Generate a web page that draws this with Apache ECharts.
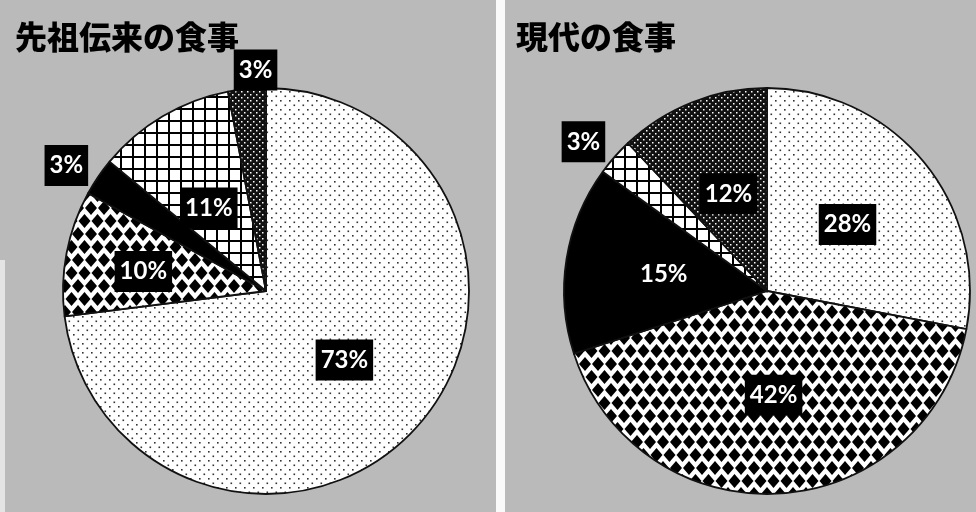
<!DOCTYPE html>
<html>
<head>
<meta charset="utf-8">
<script src="https://cdn.jsdelivr.net/npm/echarts@6/dist/echarts.min.js"></script>
<style>
  html, body { margin: 0; padding: 0; background: #bababa; }
  #chart { width: 976px; height: 512px; }
</style>
</head>
<body>
<div id="chart"></div>
<script>
// 区分（凡例なし、模様で区別）
const kinds = ['点', '菱形', '黒', '格子', '網']
const titles = ['先祖伝来の食事', '現代の食事']
const ancestralValues = [73, 10, 3, 11, 3]
const modernValues = [28, 42, 15, 3, 12]

// 模様タイル
function tile(w, h, draw) {
  const c = document.createElement('canvas')
  c.width = w
  c.height = h
  const ctx = c.getContext('2d')
  draw(ctx, w, h)
  return { image: c, repeat: 'repeat' }
}
const fills = {
  '点': tile(9, 9, (ctx, w, h) => {
    ctx.fillStyle = '#fff'
    ctx.fillRect(0, 0, w, h)
    ctx.fillStyle = '#333'
    ctx.fillRect(1, 1, 1.6, 1.6)
    ctx.fillRect(5.5, 5.5, 1.6, 1.6)
  }),
  '菱形': tile(13, 26, (ctx, w, h) => {
    ctx.fillStyle = '#fff'
    ctx.fillRect(0, 0, w, h)
    ctx.fillStyle = '#000'
    const dia = (x, y) => {
      ctx.beginPath()
      ctx.moveTo(x, y - 7)
      ctx.lineTo(x + 6, y)
      ctx.lineTo(x, y + 7)
      ctx.lineTo(x - 6, y)
      ctx.closePath()
      ctx.fill()
    }
    dia(0, 0); dia(w, 0); dia(0, h); dia(w, h); dia(w / 2, h / 2)
  }),
  '黒': '#000',
  '格子': tile(12, 12, (ctx, w, h) => {
    ctx.fillStyle = '#fff'
    ctx.fillRect(0, 0, w, h)
    ctx.fillStyle = '#000'
    ctx.fillRect(0, 0, w, 2)
    ctx.fillRect(0, 0, 2, h)
  }),
  '網': tile(6, 6, (ctx, w, h) => {
    ctx.fillStyle = '#111'
    ctx.fillRect(0, 0, w, h)
    ctx.fillStyle = '#fff'
    ctx.fillRect(1, 1, 1.5, 1.5)
    ctx.fillRect(4, 4, 1.5, 1.5)
  })
}

const baseLabel = {
  show: true,
  formatter: '{c}%',
  color: '#fff',
  backgroundColor: '#000',
  fontFamily: 'Lato',
  fontWeight: 'bold',
  fontSize: 24,
  lineHeight: 25,
  padding: [8, 5]
}

// 小さい区分はラベルを外へ
function makeData(values, tweaks) {
  return kinds.map((k, i) => {
    const t = tweaks[i] || {}
    const item = {
      name: k,
      value: values[i],
      itemStyle: { color: fills[k] },
      label: { position: t.outside ? 'outside' : 'inside', offset: t.offset || [0, 0] }
    }
    if (t.outside) item.labelLine = { show: false, length: 6, length2: 0 }
    return item
  })
}

const chart = echarts.init(document.getElementById('chart'))
const titleStyle = { fontFamily: 'Noto Sans CJK JP', fontWeight: 900, fontSize: 32, color: '#000' }
const pieBase = {
  type: 'pie',
  radius: 203,
  startAngle: 90,
  avoidLabelOverlap: false,
  silent: true,
  itemStyle: { borderColor: '#111', borderWidth: 1.8 },
  label: baseLabel,
  labelLine: { show: false, length: 6, length2: 0 }
}
chart.setOption({
  backgroundColor: '#bababa',
  animation: false,
  title: [
    { text: titles[0], left: 10, top: 16, textStyle: titleStyle },
    { text: titles[1], left: 511, top: 16, textStyle: titleStyle }
  ],
  graphic: [
    { type: 'rect', shape: { x: 496, y: 0, width: 9, height: 512 }, style: { fill: '#fafafa' }, silent: true },
    { type: 'rect', shape: { x: 0, y: 260, width: 5, height: 252 }, style: { fill: '#e4e4e4' }, silent: true }
  ],
  series: [
    Object.assign({}, pieBase, {
      center: [266, 291],
      data: makeData(ancestralValues, {
        1: { offset: [-20, 0] },
        2: { outside: true, offset: [0, -8] },
        3: { offset: [-4, 7] },
        4: { outside: true, offset: [36, -13] }
      })
    }),
    Object.assign({}, pieBase, {
      center: [767, 291],
      data: makeData(modernValues, {
        3: { outside: true, offset: [0, -11] }
      })
    })
  ]
})
</script>
</body>
</html>
